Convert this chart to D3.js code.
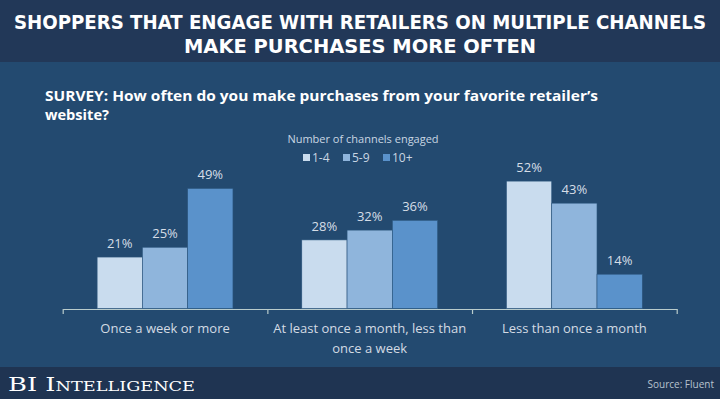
<!DOCTYPE html>
<html>
<head>
<meta charset="utf-8">
<script src="https://cdn.jsdelivr.net/npm/d3@7"></script>
<style>
  html, body { margin: 0; padding: 0; background: #234a70; }
  svg { display: block; }
</style>
</head>
<body>
<svg id="chart" width="720" height="399"></svg>
<script>
// survey answers (x categories)
const categories = ["Once a week or more", "At least once a month, less than once a week", "Less than once a month"];
const categoryLines = [["Once a week or more"], ["At least once a month, less than", "once a week"], ["Less than once a month"]];
// number of channels engaged
const seriesNames = ["1-4", "5-9", "10+"];
const values14 = [21, 28, 52];
const values59 = [25, 32, 43];
const values10 = [49, 36, 14];
const seriesColors = ["#c9dcee", "#8fb5dc", "#5a92cb"];

const rows = categories.map((c, i) => ({
    category: c,
    lines: categoryLines[i],
    vals: [values14[i], values59[i], values10[i]]
}));

const svg = d3.select('#chart');
const W = 720, H = 399;

// backgrounds
svg.append('rect').attr('x', 0).attr('y', 0).attr('width', W).attr('height', H).attr('fill', '#234a70');
svg.append('rect').attr('x', 0).attr('y', 0).attr('width', W).attr('height', 62).attr('fill', '#223858');
svg.append('rect').attr('x', 0).attr('y', 367).attr('width', W).attr('height', 32).attr('fill', '#1f3452');

// title
const titleLines = ["SHOPPERS THAT ENGAGE WITH RETAILERS ON MULTIPLE CHANNELS", "MAKE PURCHASES MORE OFTEN"];
const titleWidths = [692, 352];
svg.selectAll('.title')
    .data(titleLines)
    .enter()
    .append('text')
    .classed('title', true)
    .attr('x', W / 2)
    .attr('y', (d, i) => 29 + i * 24)
    .attr('text-anchor', 'middle')
    .attr('textLength', (d, i) => titleWidths[i])
    .attr('lengthAdjust', 'spacingAndGlyphs')
    .attr('fill', '#ffffff')
    .style('font-family', '"DejaVu Sans Condensed", "DejaVu Sans", sans-serif')
    .style('font-weight', 700)
    .style('font-size', '20px')
    .text(d => d);

// subtitle
const subLines = ["SURVEY: How often do you make purchases from your favorite retailer\u2019s", "website?"];
const subWidths = [553, 64];
svg.selectAll('.sub')
    .data(subLines)
    .enter()
    .append('text')
    .classed('sub', true)
    .attr('x', 45)
    .attr('y', (d, i) => 101 + i * 19)
    .attr('textLength', (d, i) => subWidths[i])
    .attr('lengthAdjust', 'spacingAndGlyphs')
    .attr('fill', '#ffffff')
    .style('font-family', '"Open Sans", sans-serif')
    .style('font-weight', 700)
    .style('font-size', '15px')
    .text(d => d);

// legend
svg.append('text')
    .attr('x', 363)
    .attr('y', 143)
    .attr('text-anchor', 'middle')
    .attr('fill', '#c9d6e3')
    .style('font-family', '"Open Sans", sans-serif')
    .style('font-size', '11px')
    .text('Number of channels engaged');

const legendX = [303, 343, 383];
const lg = svg.selectAll('.legend')
    .data(seriesNames)
    .enter()
    .append('g')
    .classed('legend', true)
    .attr('transform', (d, i) => `translate(${legendX[i]}, 158)`);
lg.append('rect')
    .attr('x', 0).attr('y', -4)
    .attr('width', 7).attr('height', 7)
    .attr('fill', (d, i) => seriesColors[i]);
lg.append('text')
    .attr('x', 9)
    .attr('y', 4)
    .attr('fill', '#c9d6e3')
    .style('font-family', '"Open Sans", sans-serif')
    .style('font-size', '12px')
    .text(d => d);

// scales
const xScale = d3.scaleBand()
    .domain(categories)
    .range([62.7, 676.7])
    .paddingInner(0)
    .paddingOuter(0);

const xInner = d3.scaleBand()
    .domain(seriesNames)
    .range([0, xScale.bandwidth()])
    .paddingOuter(0.76)
    .paddingInner(0);

const yScale = d3.scaleLinear()
    .domain([0, 100])
    .range([308.5, 63.5]);

// bars
const groups = svg.selectAll('.group')
    .data(rows)
    .enter()
    .append('g')
    .classed('group', true)
    .attr('transform', d => `translate(${xScale(d.category)}, 0)`);

const bars = groups.selectAll('.data_point')
    .data(d => d.vals.map((v, i) => ({ series: seriesNames[i], value: v, idx: i })))
    .enter();

bars.append('rect')
    .classed('data_point', true)
    .attr('x', d => xInner(d.series))
    .attr('y', d => yScale(d.value))
    .attr('width', xInner.bandwidth())
    .attr('height', d => yScale(0) - yScale(d.value))
    .attr('fill', d => seriesColors[d.idx])
    .attr('stroke', '#2b557c')
    .attr('stroke-width', 0.6);

bars.append('text')
    .attr('x', d => xInner(d.series) + xInner.bandwidth() / 2)
    .attr('y', d => yScale(d.value) - 9)
    .attr('text-anchor', 'middle')
    .attr('fill', '#d6dee7')
    .style('font-family', '"Open Sans", sans-serif')
    .style('font-size', '13px')
    .text(d => d.value + '%');

// axis line with ticks at band edges
const tickPos = d3.scaleLinear().domain([0, categories.length]).range(xScale.range());
const xAxis = d3.axisBottom(tickPos)
    .tickValues(d3.range(categories.length + 1))
    .tickSize(5)
    .tickSizeOuter(0)
    .tickFormat('');
const axisG = svg.append('g')
    .attr('transform', 'translate(0, 309)')
    .call(xAxis);
axisG.selectAll('path, line').attr('stroke', '#b9cccc').attr('stroke-width', 1.2);

// category labels
const labels = svg.selectAll('.cat')
    .data(rows)
    .enter()
    .append('text')
    .classed('cat', true)
    .attr('x', d => xScale(d.category) + xScale.bandwidth() / 2)
    .attr('y', 333)
    .attr('text-anchor', 'middle')
    .attr('fill', '#d3dbe4')
    .style('font-family', '"Open Sans", sans-serif')
    .style('font-size', '13px');
labels.selectAll('tspan')
    .data(d => d.lines)
    .enter()
    .append('tspan')
    .attr('x', function () { return d3.select(this.parentNode).attr('x'); })
    .attr('dy', (d, i) => i === 0 ? 0 : 20)
    .text(d => d);

// footer
svg.append('text')
    .attr('x', 8)
    .attr('y', 391)
    .attr('fill', '#ffffff')
    .style('font-family', '"DejaVu Serif", serif')
    .style('font-size', '19px')
    .style('font-variant', 'small-caps')
    .attr('textLength', 187)
    .attr('lengthAdjust', 'spacingAndGlyphs')
    .text('BI Intelligence');

svg.append('text')
    .attr('x', 714)
    .attr('y', 388)
    .attr('text-anchor', 'end')
    .attr('fill', '#b7c3cf')
    .style('font-family', '"Open Sans", sans-serif')
    .style('font-size', '10px')
    .text('Source: Fluent');
</script>
</body>
</html>
